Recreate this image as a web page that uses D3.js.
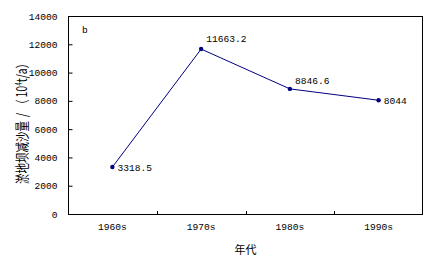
<!DOCTYPE html>
<html><head><meta charset="utf-8">
<script src="https://cdn.jsdelivr.net/npm/d3@7/dist/d3.min.js"></script>
<style>body{margin:0;background:#fff}svg{display:block}</style>
</head><body>
<script>
const categories = ["1960s","1970s","1980s","1990s"];
const values = [3318.5, 11663.2, 8846.6, 8044];
const labels = ["3318.5","11663.2","8846.6","8044"];
const yTicks = [0,2000,4000,6000,8000,10000,12000,14000];

const W=429,H=264;
const m={l:68,t:16,r:6,b:50};
const svg=d3.select("body").append("svg").attr("width",W).attr("height",H);
const numFont="'Liberation Mono', monospace";
const cjk="'Noto Sans CJK SC', sans-serif";

const x=d3.scaleBand().domain(categories).range([m.l,W-m.r]);
const y=d3.scaleLinear().domain([0,14000]).range([H-m.b,m.t]);

// frame
svg.append("rect").attr("x",m.l+0.5).attr("y",m.t+0.5)
  .attr("width",W-m.r-m.l-1).attr("height",H-m.b-m.t).attr("fill","none").attr("stroke","#000");

// y axis
const ya=svg.append("g").attr("transform",`translate(${m.l+0.5},0)`)
  .call(d3.axisLeft(y).tickValues(yTicks).tickSize(-4).tickPadding(11).tickFormat(d3.format("d")));
ya.select(".domain").remove();
ya.selectAll("line").attr("stroke","#000");
ya.selectAll("text").attr("font-family",numFont).attr("font-size","9.6px").attr("fill","#000");

// x axis ticks between categories
const bounds=categories.slice(1).map(c=>x(c));
svg.selectAll(".xt").data(bounds).enter().append("line")
  .attr("x1",d=>Math.round(d)+0.5).attr("x2",d=>Math.round(d)+0.5)
  .attr("y1",H-m.b).attr("y2",H-m.b-3).attr("stroke","#000");
svg.selectAll(".xl").data(categories).enter().append("text")
  .attr("x",d=>x(d)+x.bandwidth()/2).attr("y",H-m.b+16)
  .attr("text-anchor","middle").attr("font-family",numFont).attr("font-size","9.6px").text(d=>d);

// line
const pts=categories.map((c,i)=>[x(c)+x.bandwidth()/2,y(values[i])]);
svg.append("path").attr("d",d3.line()(pts)).attr("fill","none").attr("stroke","#000080").attr("stroke-width",1);
svg.selectAll(".pt").data(pts).enter().append("circle")
  .attr("cx",d=>d[0]).attr("cy",d=>d[1]).attr("r",2.2).attr("fill","#000080");

// data labels
const off=[[5,4],[5,-7],[5,-5],[5,4]];
svg.selectAll(".dl").data(pts).enter().append("text")
  .attr("x",(d,i)=>d[0]+off[i][0]).attr("y",(d,i)=>d[1]+off[i][1])
  .attr("font-family",numFont).attr("font-size","9.6px").text((d,i)=>labels[i]);

// panel letter
svg.append("text").attr("x",82).attr("y",33).attr("font-family",numFont).attr("font-size","9.6px").text("b");

// axis titles
svg.append("text").attr("x",(m.l+W-m.r)/2).attr("y",254).attr("text-anchor","middle")
  .attr("font-family",cjk).attr("font-size","11px").text("年代");
const yt=svg.append("text").attr("transform",`translate(27,121) rotate(-90) scale(1,1.35)`)
  .attr("text-anchor","middle").attr("font-family",cjk).attr("font-size","10.5px");
yt.append("tspan").text("淤地坝减沙量");
yt.append("tspan").attr("dx","4").text("/");
yt.append("tspan").attr("dx","3").text("（");
yt.append("tspan").attr("dx","2").text("10");
yt.append("tspan").attr("font-size","6.5px").attr("dy","-4").text("4");
yt.append("tspan").attr("dy","4").text("t/a）");
</script>
</body></html>
